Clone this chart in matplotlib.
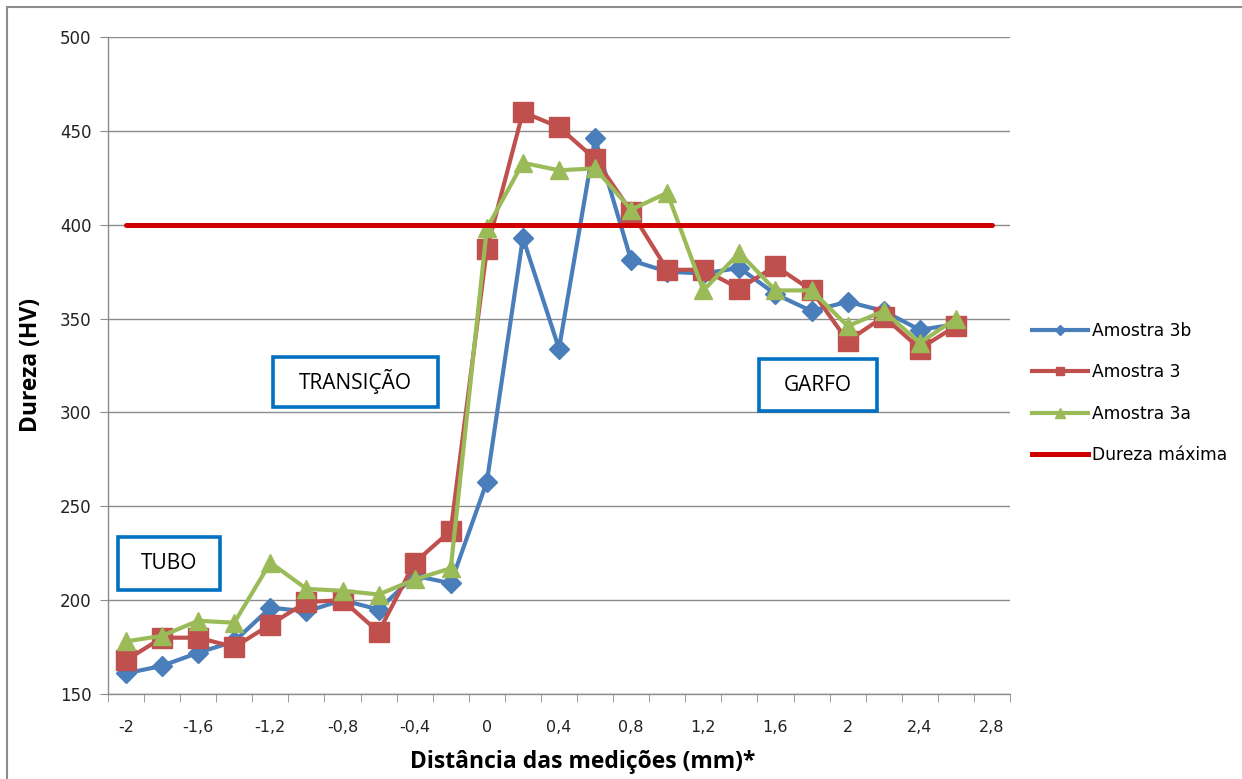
import matplotlib
matplotlib.use("Agg")
import matplotlib.pyplot as plt
from matplotlib.patches import Rectangle
from matplotlib.lines import Line2D
from matplotlib.ticker import FixedLocator, FixedFormatter

# Measurement positions (mm)
distancia_mm = [-2.0, -1.8, -1.6, -1.4, -1.2, -1.0, -0.8, -0.6, -0.4, -0.2,
                0.0, 0.2, 0.4, 0.6, 0.8, 1.0, 1.2, 1.4, 1.6, 1.8,
                2.0, 2.2, 2.4, 2.6, 2.8]

# Hardness readings (HV)
amostra_3b = [161, 165, 172, 178, 196, 194, 200, 195, 213, 209,
              263, 393, 334, 446, 381, 375, 374, 377, 363, 354,
              359, 354, 344, 347]
amostra_3 = [168, 180, 180, 175, 187, 199, 200, 183, 220, 237,
             387, 460, 452, 435, 407, 376, 376, 366, 378, 365,
             338, 351, 334, 346]
amostra_3a = [178, 181, 189, 188, 220, 206, 205, 203, 211, 217,
              398, 433, 429, 430, 408, 417, 365, 385, 365, 365,
              346, 354, 337, 350]
dureza_maxima = [400] * len(distancia_mm)

tick_labels = ["-2", "-1,6", "-1,2", "-0,8", "-0,4", "0", "0,4", "0,8",
               "1,2", "1,6", "2", "2,4", "2,8"]
tick_values = [-2.0, -1.6, -1.2, -0.8, -0.4, 0.0, 0.4, 0.8, 1.2, 1.6, 2.0, 2.4, 2.8]

W, H = 1242, 779
fig = plt.figure(figsize=(W / 100, H / 100), dpi=100)
fig.patch.set_facecolor("white")


def fx(px):
    return px / W


def fy(py):
    return 1 - py / H


# plot area
left, right, top, bottom = 108, 1010, 37, 694
ax = fig.add_axes([fx(left), fy(bottom), (right - left) / W, (bottom - top) / H])

blue = "#4A7EBB"
red = "#C0504D"
green = "#9BBB59"
dred = "#D00000"

n3b = len(amostra_3b)
ax.plot(distancia_mm[:n3b], amostra_3b, color=blue, lw=3.0, marker="D",
        markersize=10, zorder=3, label="Amostra 3b")
ax.plot(distancia_mm[:len(amostra_3)], amostra_3, color=red, lw=3.0, marker="s",
        markersize=14, zorder=4, label="Amostra 3")
ax.plot(distancia_mm[:len(amostra_3a)], amostra_3a, color=green, lw=3.0, marker="^",
        markersize=13, zorder=5, label="Amostra 3a")
ax.plot(distancia_mm, dureza_maxima, color=dred, lw=3.6, zorder=6,
        label="Dureza máxima", solid_capstyle="round")

ax.set_xlim(-2.1, 2.9)
ax.set_ylim(150, 500)
ax.set_yticks(range(150, 501, 50))
ax.yaxis.grid(True, color="#8C8C8C", lw=1.0)
ax.set_axisbelow(True)

for s in ["top", "right"]:
    ax.spines[s].set_visible(False)
for s in ["left", "bottom"]:
    ax.spines[s].set_color("#8C8C8C")
    ax.spines[s].set_linewidth(1.0)

ax.xaxis.set_major_locator(FixedLocator(tick_values))
ax.xaxis.set_major_formatter(FixedFormatter(tick_labels))
ax.xaxis.set_minor_locator(FixedLocator([-2.1 + 0.2 * k for k in range(26)]))
ax.tick_params(axis="x", which="major", length=0, pad=19, labelsize=11.5, labelcolor="#222222")
ax.tick_params(axis="x", which="minor", length=6, color="#8C8C8C")
ax.tick_params(axis="y", length=6, color="#8C8C8C", pad=6, labelsize=12, labelcolor="#222222")

ax.set_xlabel("Distância das medições (mm)*", fontsize=16.5, fontweight="bold",
              fontfamily="Open Sans")
ax.xaxis.set_label_coords((583 - left) / (right - left), -(762 - bottom) / (bottom - top),
                          transform=ax.transAxes)
ax.xaxis.label.set_va("center")
ax.set_ylabel("Dureza (HV)", fontsize=16.5, fontweight="bold", fontfamily="Open Sans", labelpad=12)

# Region boxes
def region_box(x0, y0, x1, y1, label):
    fig.add_artist(Rectangle((fx(x0), fy(y1)), fx(x1) - fx(x0), fy(y0) - fy(y1),
                             transform=fig.transFigure, fill=True, facecolor="white",
                             edgecolor="#0070C0", lw=2.6, zorder=10))
    fig.text(fx((x0 + x1) / 2), fy((y0 + y1) / 2), label, ha="center", va="center",
             fontsize=15, fontfamily="Open Sans", color="black", zorder=11)


region_box(118, 537, 220, 590, "TUBO")
region_box(273, 357, 438, 407, "TRANSIÇÃO")
region_box(759, 359, 877, 411, "GARFO")

# Legend
handles = [
    Line2D([], [], color=blue, lw=3.0, marker="D", markersize=5),
    Line2D([], [], color=red, lw=3.0, marker="s", markersize=6),
    Line2D([], [], color=green, lw=3.0, marker="^", markersize=7),
    Line2D([], [], color=dred, lw=3.6),
]
labels = ["Amostra 3b", "Amostra 3", "Amostra 3a", "Dureza máxima"]
fig.legend(handles, labels, loc="center left", bbox_to_anchor=(fx(1032), fy(393)),
           frameon=False, fontsize=12.3, handlelength=3.3, handletextpad=0.2,
           labelspacing=1.35, borderpad=0, borderaxespad=0)

# outer chart frame
fig.add_artist(Rectangle((fx(7), -0.05), 1.1, fy(7) + 0.05, transform=fig.transFigure,
                         fill=False, edgecolor="#8C8C8C", lw=1.5, zorder=0))

fig.savefig("out.png", dpi=100, facecolor="white")
